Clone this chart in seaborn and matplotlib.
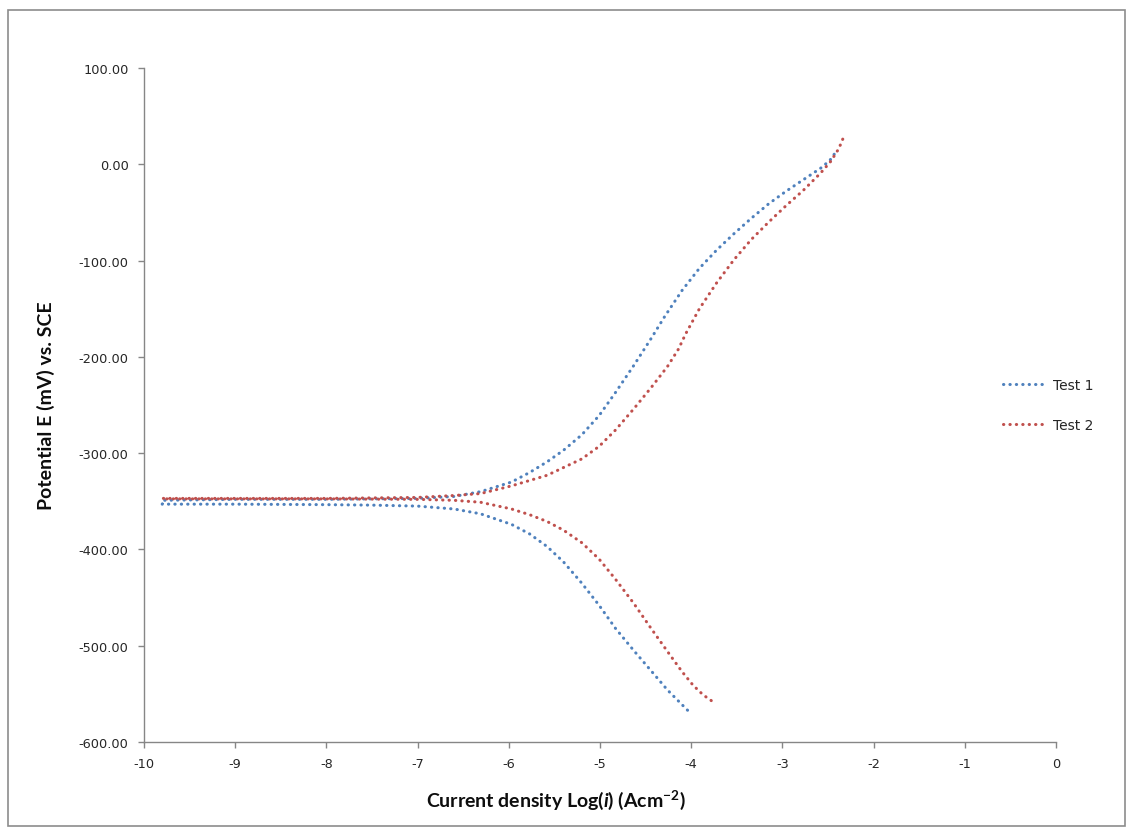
import matplotlib
matplotlib.use("Agg")
import matplotlib.pyplot as plt
from matplotlib.patches import Rectangle
from matplotlib.ticker import FormatStrFormatter, MultipleLocator
import numpy as np
import pandas as pd
import seaborn as sns

# Potentiodynamic polarisation scans (log current density vs potential), in scan order:
# cathodic branch inwards to the corrosion potential, then the anodic branch outwards.
test1_logi = [-4.04, -4.26, -4.44, -4.63, -4.83, -5.01, -5.20, -5.40, -5.58, -5.77,
              -5.97, -6.31, -6.60, -7.00, -7.50, -8.00, -9.00, -9.80,
              -9.80, -9.00, -8.00, -7.00, -6.60, -6.31, -5.97, -5.77, -5.58, -5.40,
              -5.20, -5.01, -4.83, -4.63, -4.44, -4.29, -4.10, -3.91, -3.72, -3.53,
              -3.34, -3.15, -2.96, -2.77, -2.58, -2.48, -2.42]
test1_e = [-567, -546, -526, -505, -482, -458, -435, -413, -397, -384,
           -374, -363, -358, -355, -354, -353.5, -353, -353,
           -349, -348, -348, -347, -345, -340, -330, -320, -309, -297,
           -281, -261, -237, -209, -181, -158, -131, -108, -89, -72,
           -56, -41, -28, -16, -4, 4, 12]

test2_logi = [-3.78, -3.87, -3.98, -4.10, -4.26, -4.44, -4.63, -4.83, -5.01, -5.20,
              -5.40, -5.58, -5.77, -5.97, -6.31, -6.60, -7.00, -8.00, -9.80,
              -9.80, -8.00, -7.00, -6.60, -6.31, -5.97, -5.58, -5.20, -5.01, -4.83,
              -4.63, -4.44, -4.26, -4.14, -4.06, -3.91, -3.72, -3.53, -3.34, -3.15,
              -2.96, -2.77, -2.58, -2.47, -2.39, -2.35, -2.32]
test2_e = [-557, -551, -541, -527, -506, -482, -456, -431, -410, -393,
           -380, -371, -364, -358, -351, -349, -348, -347.5, -347.5,
           -347, -347, -346, -344, -342, -334, -323, -306, -293, -276,
           -254, -232, -210, -192, -176, -150, -123, -99, -78, -60,
           -43, -27, -9, 3, 15, 23, 31]

series_names = ["Test 1", "Test 2"]
series_colors = ["#4F81BD", "#C0504D"]

x_ticks = list(range(-10, 1))
y_ticks = list(range(-600, 101, 100))

sns.set_theme(style="white")
plt.rcParams["font.family"] = ["DejaVu Sans"]
plt.rcParams["mathtext.fontset"] = "custom"
plt.rcParams["mathtext.rm"] = "Lato:bold"
plt.rcParams["mathtext.bf"] = "Lato:bold"
plt.rcParams["mathtext.it"] = "Lato:italic:bold"
plt.rcParams["mathtext.bfit"] = "Lato:italic:bold"

fig = plt.figure(figsize=(11.28, 8.29), dpi=100)
fig.patch.set_facecolor("white")
ax = fig.add_axes([0.12766, 0.10374, 0.80851, 0.81303])

frames = []
for name, xs, ys in [(series_names[0], test1_logi, test1_e),
                     (series_names[1], test2_logi, test2_e)]:
    frames.append(pd.DataFrame({"logi": xs, "E": ys, "test": name,
                                "order": np.arange(len(xs))}))
data = pd.concat(frames, ignore_index=True)

for name, color in zip(series_names, series_colors):
    sub = data[data["test"] == name]
    sns.lineplot(data=sub, x="logi", y="E", sort=False, estimator=None,
                 color=color, linewidth=2.2, linestyle=(0, (0.1, 2.0)),
                 dash_capstyle="round", label=name, ax=ax)

ax.set_xlim(x_ticks[0], x_ticks[-1])
ax.set_ylim(y_ticks[0], y_ticks[-1])
ax.xaxis.set_major_locator(MultipleLocator(1))
ax.yaxis.set_major_locator(MultipleLocator(100))
ax.yaxis.set_major_formatter(FormatStrFormatter("%.2f"))
ax.xaxis.set_major_formatter(FormatStrFormatter("%d"))

spine_color = "#868686"
for side in ["top", "right"]:
    ax.spines[side].set_visible(False)
for side in ["left", "bottom"]:
    ax.spines[side].set_color(spine_color)
    ax.spines[side].set_linewidth(1.0)
ax.tick_params(axis="both", direction="out", length=4, width=1.0,
               color=spine_color, labelcolor="#262626", labelsize=9.3, pad=7)
ax.tick_params(axis="x", bottom=True)
ax.tick_params(axis="y", left=True)
ax.grid(False)

ax.set_xlabel(r"Current density Log($\mathbfit{i}$) (Acm$^{\mathbf{-2}}$)",
              fontsize=14, fontweight="bold", family="Lato", color="#0d0d0d")
ax.set_ylabel("Potential E (mV) vs. SCE", fontsize=14, fontweight="bold",
              family="Lato", color="#0d0d0d")
ax.xaxis.set_label_coords(0.452, -0.068)
ax.yaxis.set_label_coords(-0.098, 0.5)

leg = ax.legend(loc="center left", bbox_to_anchor=(0.928, 0.5), frameon=False,
                fontsize=10, handlelength=3.0, handletextpad=0.6,
                labelspacing=1.9, labelcolor="#262626")

fig.add_artist(Rectangle((8 / 1128, 1 - 827 / 829), 1117 / 1128, 816 / 829,
                         transform=fig.transFigure, fill=False,
                         edgecolor="#8c8c8c", linewidth=1.2))

fig.savefig("out.png", dpi=100, facecolor="white")
